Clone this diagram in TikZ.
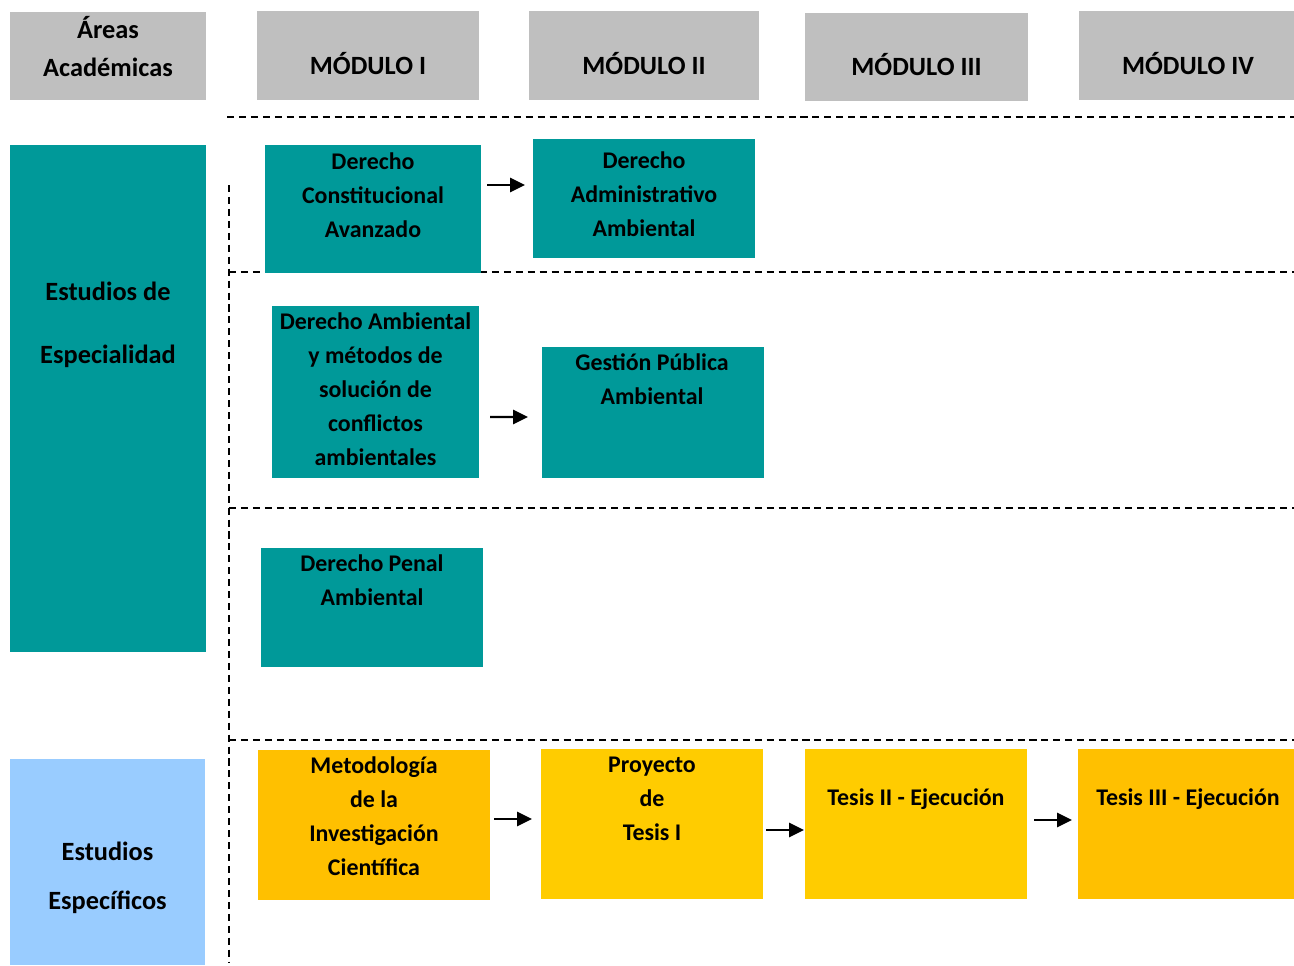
\documentclass[tikz,border=0pt]{standalone}
\usepackage{fontspec}
\setmainfont{Carlito}
\usetikzlibrary{arrows.meta,calc}
\definecolor{hdrgray}{HTML}{BFBFBF}
\definecolor{tealbox}{HTML}{009999}
\definecolor{bluebox}{HTML}{99CCFF}
\definecolor{orangebox}{HTML}{FFC000}
\definecolor{yellowbox}{HTML}{FFCC00}
\tikzset{
  box/.style={draw=none, inner sep=0pt, outer sep=0pt},
  hdr/.style={box, fill=hdrgray},
  tealb/.style={box, fill=tealbox},
  txt/.style={inner sep=0pt, align=center, font=\fontsize{13.6}{19.3}\selectfont\bfseries},
  htxt/.style={inner sep=0pt, align=center, font=\fontsize{15}{21.5}\selectfont\bfseries},
  sep/.style={dashed, dash pattern=on 4pt off 2.8pt, line width=1.1pt},
  arr/.style={-{Triangle[length=8.5pt,width=8pt]}, line width=1.4pt},
}
\begin{document}
\begin{tikzpicture}[x=0.02cm, y=-0.02cm]
\useasboundingbox (0,0) rectangle (1294,965);
% header boxes
\node[hdr, minimum width=196*0.02cm, minimum height=88*0.02cm] (areas) at (108,56) {};
\node[htxt] (t-areas) at (108,46.5) {Áreas\\[0.5pt]Académicas};
\node[hdr, minimum width=222*0.02cm, minimum height=89*0.02cm] (m1) at (368,55.5) {};
\node[htxt] (t-m1) at (368,64) {MÓDULO I};
\node[hdr, minimum width=230*0.02cm, minimum height=89*0.02cm] (m2) at (644,55.5) {};
\node[htxt] (t-m2) at (644,64) {MÓDULO II};
\node[hdr, minimum width=223*0.02cm, minimum height=88*0.02cm] (m3) at (916.5,57) {};
\node[htxt] (t-m3) at (916.5,65) {MÓDULO III};
\node[hdr, minimum width=215*0.02cm, minimum height=89*0.02cm] (m4) at (1186.5,55.5) {};
\node[htxt] (t-m4) at (1188,64) {MÓDULO IV};
% left area boxes
\node[tealb, minimum width=196*0.02cm, minimum height=507*0.02cm] (esp) at (108,398.5) {};
\node[htxt, font=\fontsize{15}{35.7}\selectfont\bfseries] (t-esp) at (108,324.5) {Estudios de\\Especialidad};
\node[box, fill=bluebox, minimum width=195*0.02cm, minimum height=206*0.02cm] (eesp) at (107.5,862) {};
\node[htxt, font=\fontsize{15}{27.8}\selectfont\bfseries] (t-eesp) at (107.5,877.5) {Estudios\\Específicos};
% separators
\draw[sep] (227,117) -- (1294,117);
\draw[sep] (229,185) -- (229,962);
\draw[sep] (229,272) -- (1294,272);
\draw[sep] (229,508) -- (1294,508);
\draw[sep] (229,740) -- (1294,740);
% row 1
\node[tealb, minimum width=216*0.02cm, minimum height=128*0.02cm] (dca) at (373,209) {};
\node[txt] (t-dca) at (373,195) {Derecho\\Constitucional\\Avanzado};
\node[tealb, minimum width=222*0.02cm, minimum height=119*0.02cm] (daa) at (644,198.5) {};
\node[txt] (t-daa) at (644,194) {Derecho\\Administrativo\\Ambiental};
% row 2
\node[tealb, minimum width=207*0.02cm, minimum height=172*0.02cm] (dam) at (375.5,392) {};
\node[txt] (t-dam) at (375.5,389.5) {Derecho Ambiental\\y métodos de\\solución de\\conflictos\\ambientales};
\node[tealb, minimum width=222*0.02cm, minimum height=131*0.02cm] (gpa) at (653,412.5) {};
\node[txt] (t-gpa) at (652,379.5) {Gestión Pública\\Ambiental};
% row 3
\node[tealb, minimum width=222*0.02cm, minimum height=119*0.02cm] (dpa) at (372,607.5) {};
\node[txt] (t-dpa) at (372,580.5) {Derecho Penal\\Ambiental};
% row 4
\node[box, fill=orangebox, minimum width=232*0.02cm, minimum height=150*0.02cm] (met) at (374,825) {};
\node[txt] (t-met) at (374,816.5) {Metodología\\de la\\Investigación\\Científica};
\node[box, fill=yellowbox, minimum width=222*0.02cm, minimum height=150*0.02cm] (pro) at (652,824) {};
\node[txt] (t-pro) at (652,799) {Proyecto\\de\\Tesis I};
\node[box, fill=yellowbox, minimum width=222*0.02cm, minimum height=150*0.02cm] (t2) at (916,824) {};
\node[txt] (t-t2) at (916,799) {Tesis II - Ejecución};
\node[box, fill=orangebox, minimum width=216*0.02cm, minimum height=150*0.02cm] (t3) at (1186,824) {};
\node[txt] (t-t3) at (1188,799) {Tesis III - Ejecución};
% arrows
\draw[arr, shorten <=0.12cm, shorten >=0.16cm] ($(dca.east)+(0,-24)$) -- ($(daa.west)+(0,-13.5)$);
\draw[arr, shorten <=0.22cm, shorten >=0.28cm] ($(dam.east)+(0,25)$) -- ($(gpa.west)+(0,4.5)$);
\draw[arr, shorten <=0.08cm, shorten >=0.18cm] ($(met.east)+(0,-6)$) -- ($(pro.west)+(0,-5)$);
\draw[arr, shorten <=0.06cm, shorten >=0.02cm] ($(pro.east)+(0,6)$) -- ($(t2.west)+(0,6)$);
\draw[arr, shorten <=0.14cm, shorten >=0.12cm] ($(t2.east)+(0,-4)$) -- ($(t3.west)+(0,-4)$);
\end{tikzpicture}
\end{document}
